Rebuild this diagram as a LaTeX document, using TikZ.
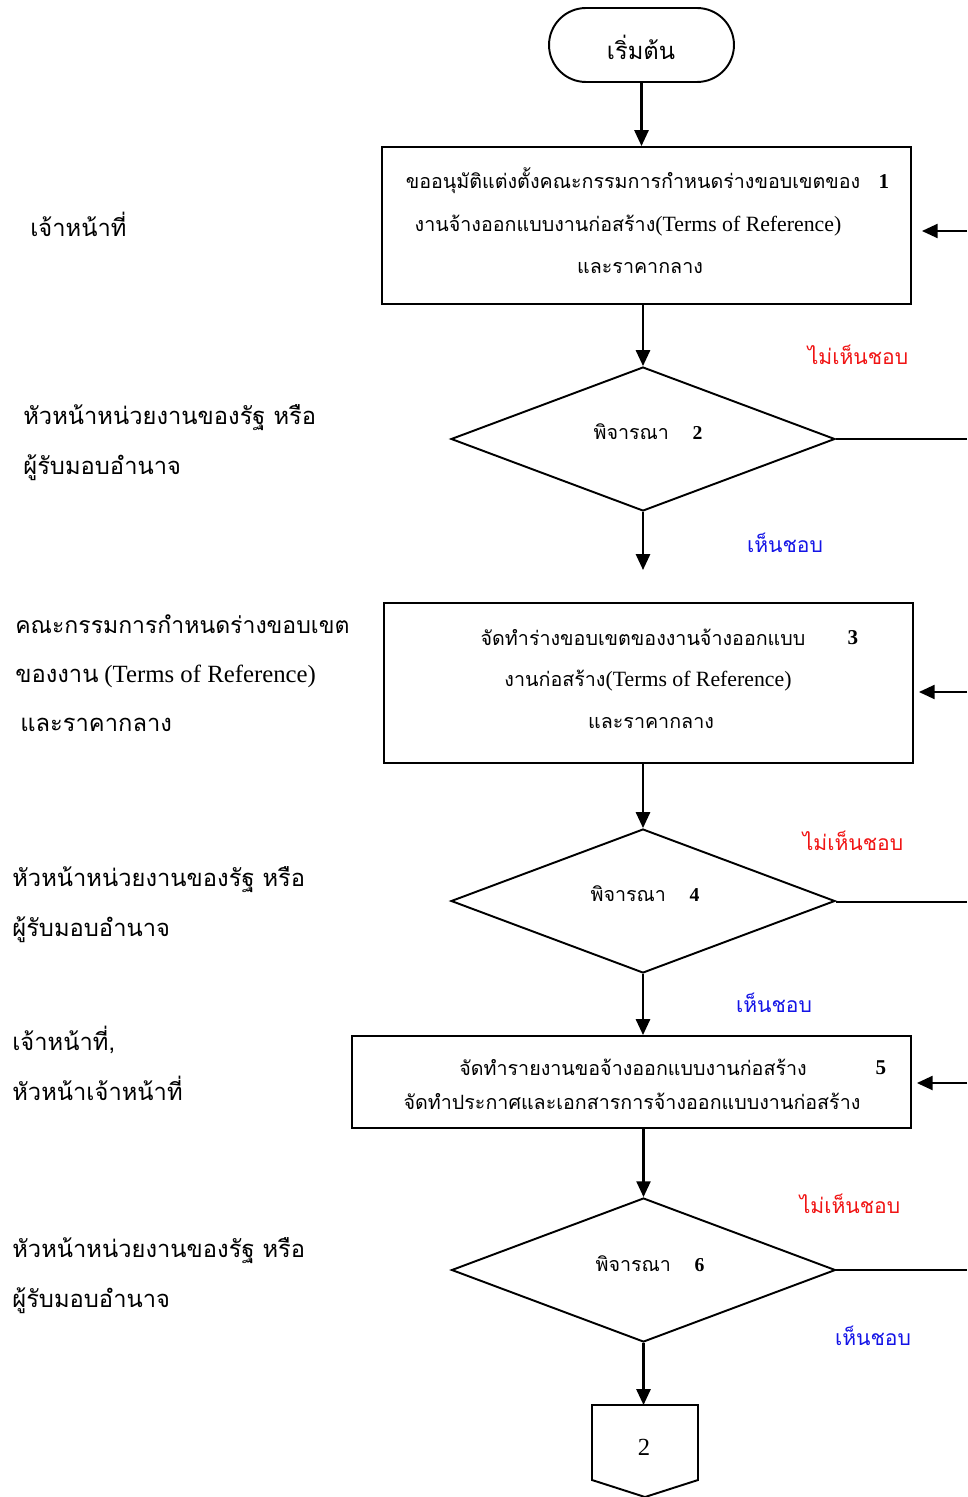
\documentclass[tikz,border=0pt]{standalone}
\usepackage{fontspec}
\setmainfont{Liberation Serif}
\newfontfamily\thaifont[Script=Thai]{Loma}
\usetikzlibrary{arrows.meta,shapes.geometric}
\definecolor{nored}{RGB}{240,20,20}
\definecolor{okblue}{RGB}{20,20,230}
\newcommand{\boxlatin}[1]{{\fontsize{12.4}{14}\selectfont #1}}
\newcommand{\lbllatin}[1]{{\fontsize{14.1}{16}\selectfont #1}}
\tikzset{
  boxshape/.style={draw, line width=1.1pt, rectangle, inner sep=0pt},
  decshape/.style={draw, line width=1.1pt, diamond, inner sep=0pt, minimum width=7.68cm, minimum height=2.88cm},
  arr/.style={line width=1.3pt, -{Triangle[length=9pt,width=8pt]}},
  plain/.style={line width=1.3pt},
  boxtxt/.style={inner sep=0pt, font=\fontsize{11.2}{13}\selectfont},
  lbl/.style={inner sep=0pt, anchor=west, font=\fontsize{13.5}{16}\selectfont},
  no/.style={inner sep=0pt, text=nored, font=\fontsize{12}{14}\selectfont\thaifont},
  yes/.style={inner sep=0pt, text=okblue, font=\fontsize{12}{14}\selectfont\thaifont},
}
\begin{document}
\begin{tikzpicture}[x=0.02cm,y=-0.02cm]
\useasboundingbox (0,0) rectangle (967,1497);
% start
\node[boxshape, rounded corners=0.74cm, minimum width=3.7cm, minimum height=1.48cm] (start) at (641.5,45) {};
\node[inner sep=0pt, font=\fontsize{13.5}{16}\selectfont\thaifont] (starttxt) at (641,47) {เริ่มต้น};
% box 1
\node[boxshape, minimum width=10.58cm, minimum height=3.14cm] (b1) at (646.5,225.5) {};
\node[boxtxt] (b1l1) at (633,181) {\thaifont ขออนุมัติแต่งตั้งคณะกรรมการกำหนดร่างขอบเขตของ};
\node[boxtxt, font=\fontsize{12}{14}\selectfont\bfseries] (b1n) at (884,182) {1};
\node[boxtxt] (b1l2) at (628,226) {{\thaifont งานจ้างออกแบบงานก่อสร้าง}\boxlatin{(Terms of Reference)}};
\node[boxtxt] (b1l3) at (640,268) {\thaifont และราคากลาง};
% diamond 2
\node[decshape] (d2) at (643,439) {};
\node[boxtxt] (d2t) at (648,432) {{\thaifont พิจารณา}\hspace{1.2em}{\bfseries 2}};
% box 3
\node[boxshape, minimum width=10.58cm, minimum height=3.2cm] (b3) at (648.5,683) {};
\node[boxtxt] (b3l1) at (643,637) {\thaifont จัดทำร่างขอบเขตของงานจ้างออกแบบ};
\node[boxtxt, font=\fontsize{12}{14}\selectfont\bfseries] (b3n) at (853,638) {3};
\node[boxtxt] (b3l2) at (648,681) {{\thaifont งานก่อสร้าง}\boxlatin{(Terms of Reference)}};
\node[boxtxt] (b3l3) at (651,723) {\thaifont และราคากลาง};
% diamond 4
\node[decshape] (d4) at (643,901) {};
\node[boxtxt] (d4t) at (645,894) {{\thaifont พิจารณา}\hspace{1.2em}{\bfseries 4}};
% box 5
\node[boxshape, minimum width=11.18cm, minimum height=1.84cm] (b5) at (631.5,1082) {};
\node[boxtxt] (b5l1) at (633,1067) {\thaifont จัดทำรายงานขอจ้างออกแบบงานก่อสร้าง};
\node[boxtxt, font=\fontsize{12}{14}\selectfont\bfseries] (b5n) at (881,1068) {5};
\node[boxtxt] (b5l2) at (632,1101) {\thaifont จัดทำประกาศและเอกสารการจ้างออกแบบงานก่อสร้าง};
% diamond 6
\node[decshape] (d6) at (643.5,1270) {};
\node[boxtxt] (d6t) at (650,1264) {{\thaifont พิจารณา}\hspace{1.2em}{\bfseries 6}};
% off-page connector
\draw[line width=1.1pt] (592,1405) -- (698,1405) -- (698,1480) -- (645,1497) -- (592,1480) -- cycle;
\coordinate (conn) at (645,1405);
\node[inner sep=0pt, font=\fontsize{14}{16}\selectfont] (conntxt) at (644,1447) {2};
% right edge coordinates
\coordinate (r1) at (967,231);
\coordinate (r3) at (967,692);
\coordinate (r5) at (967,1083);
\coordinate (e2) at (967,439);
\coordinate (e4) at (967,902);
\coordinate (e6) at (967,1270);
\coordinate (air2) at (643,570);
% connectors
\draw[arr] (start.south) -- (b1.north -| start.south);
\draw[arr] (b1.south -| d2.north) -- (d2.north);
\draw[arr] (d2.south) -- (air2);
\draw[arr] (b3.south -| d4.north) -- (d4.north);
\draw[arr] (d4.south) -- (b5.north -| d4.south);
\draw[arr] (b5.south -| d6.north) -- (d6.north);
\draw[arr] (d6.south) -- (d6.south |- conn);
\draw[plain] (d2.east) -- (e2);
\draw[plain] (d4.east |- e4) -- (e4);
\draw[plain] (d6.east) -- (e6);
\draw[arr, shorten >=0.2cm] (r1) -- (b1.east |- r1);
\draw[arr, shorten >=0.1cm] (r3) -- (b3.east |- r3);
\draw[arr, shorten >=0.1cm] (r5) -- (b5.east |- r5);
% decision labels
\node[no] (no2) at (858,355) {ไม่เห็นชอบ};
\node[yes] (yes2) at (785,543) {เห็นชอบ};
\node[no] (no4) at (853,841) {ไม่เห็นชอบ};
\node[yes] (yes4) at (774,1003) {เห็นชอบ};
\node[no] (no6) at (850,1204) {ไม่เห็นชอบ};
\node[yes] (yes6) at (873,1336) {เห็นชอบ};
% left role labels
\node[lbl] (L1) at (30,224) {\thaifont เจ้าหน้าที่};
\node[lbl] (L2a) at (23,418) {\thaifont หัวหน้าหน่วยงานของรัฐ หรือ};
\node[lbl] (L2b) at (23,468) {\thaifont ผู้รับมอบอำนาจ};
\node[lbl, font=\fontsize{13.1}{16}\selectfont] (L3a) at (15,624) {\thaifont คณะกรรมการกำหนดร่างขอบเขต};
\node[lbl] (L3b) at (15,676) {{\thaifont ของงาน} \lbllatin{(Terms of Reference)}};
\node[lbl] (L3c) at (20,725) {\thaifont และราคากลาง};
\node[lbl] (L4a) at (12,880) {\thaifont หัวหน้าหน่วยงานของรัฐ หรือ};
\node[lbl] (L4b) at (12,930) {\thaifont ผู้รับมอบอำนาจ};
\node[lbl] (L5a) at (12,1040) {\thaifont เจ้าหน้าที่,};
\node[lbl] (L5b) at (12,1088) {\thaifont หัวหน้าเจ้าหน้าที่};
\node[lbl] (L6a) at (12,1251) {\thaifont หัวหน้าหน่วยงานของรัฐ หรือ};
\node[lbl] (L6b) at (12,1301) {\thaifont ผู้รับมอบอำนาจ};
\end{tikzpicture}
\end{document}
